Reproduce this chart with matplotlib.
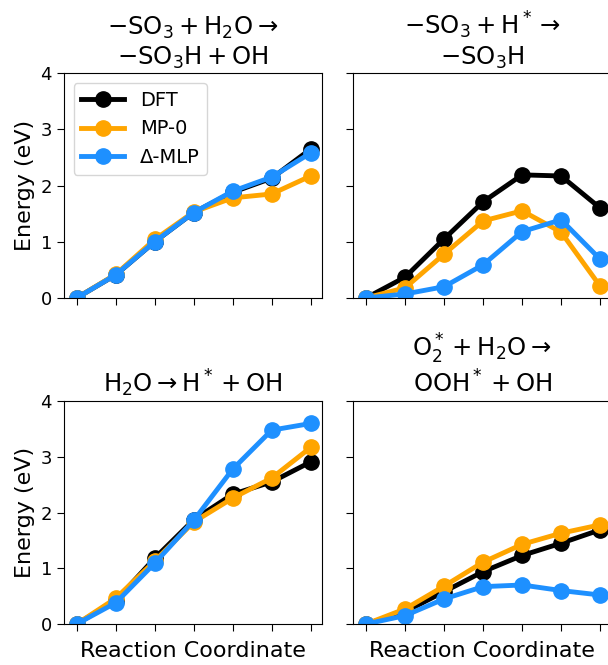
import matplotlib
matplotlib.use("Agg")
import matplotlib.pyplot as plt
import numpy as np

# reaction coordinate images
images = np.arange(7)

titles = [r'$-\mathrm{SO_3} + \mathrm{H_2O} \rightarrow$' + '\n' + r'$-\mathrm{SO_3H} + \mathrm{OH}$',
          r'$-\mathrm{SO_3} + \mathrm{H^*} \rightarrow$' + '\n' + r'$-\mathrm{SO_3H}$',
          r'$\mathrm{H_2O} \rightarrow \mathrm{H^*} + \mathrm{OH}$',
          r'$\mathrm{O_2^*} + \mathrm{H_2O} \rightarrow$' + '\n' + r'$\mathrm{OOH^*} + \mathrm{OH}$']

# energies (eV) per reaction
dft = [[0.0, 0.41, 1.00, 1.52, 1.88, 2.13, 2.65],
       [0.0, 0.37, 1.05, 1.71, 2.19, 2.17, 1.60],
       [0.0, 0.42, 1.18, 1.87, 2.33, 2.55, 2.91],
       [0.0, 0.22, 0.58, 0.94, 1.23, 1.45, 1.69]]
mp0 = [[0.0, 0.42, 1.04, 1.53, 1.78, 1.85, 2.17],
       [0.0, 0.18, 0.78, 1.37, 1.55, 1.17, 0.21],
       [0.0, 0.46, 1.13, 1.83, 2.26, 2.62, 3.17],
       [0.0, 0.27, 0.68, 1.11, 1.43, 1.63, 1.78]]
dmlp = [[0.0, 0.41, 1.00, 1.52, 1.90, 2.15, 2.58],
        [0.0, 0.07, 0.20, 0.59, 1.18, 1.39, 0.69],
        [0.0, 0.38, 1.09, 1.86, 2.78, 3.48, 3.60],
        [0.0, 0.15, 0.45, 0.67, 0.70, 0.60, 0.52]]

fig = plt.figure(figsize=(6.08, 6.65), dpi=100)
W = 0.424
lefts = [0.105, 0.581]
bottoms = [0.552, 0.0617]
heights = [0.338, 0.335]

for i in range(4):
    r, c = divmod(i, 2)
    ax = fig.add_axes([lefts[c], bottoms[r], W, heights[r]])
    ax.plot(images, dft[i], '-o', color='black', lw=3.5, ms=11, label='DFT')
    ax.plot(images, mp0[i], '-o', color='orange', lw=3.5, ms=11, label='MP-0')
    ax.plot(images, dmlp[i], '-o', color='dodgerblue', lw=3.5, ms=11, label='Δ-MLP')
    ax.set_xlim(-0.33, 6.28)
    ax.set_ylim(0, 4)
    ax.set_xticks(images)
    ax.set_xticklabels([])
    ax.set_yticks([0, 1, 2, 3, 4])
    ax.tick_params(labelsize=13, length=5)
    ax.set_title(titles[i], fontsize=17.5, pad=6)
    if c == 0:
        ax.set_ylabel('Energy (eV)', fontsize=16)
    else:
        ax.set_yticklabels([])
    if r == 1:
        ax.set_xlabel('Reaction Coordinate', fontsize=16)
    if i == 0:
        ax.legend(loc='upper left', fontsize=14, handlelength=2.2)

fig.savefig('out.png', dpi=100)
